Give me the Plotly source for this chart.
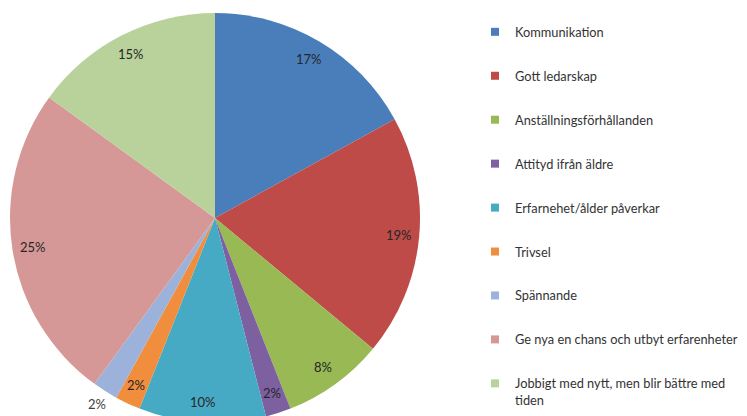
import math
import plotly.graph_objects as go

labels = [
    "Kommunikation",
    "Gott ledarskap",
    "Anställningsförhållanden",
    "Attityd ifrån äldre",
    "Erfarnehet/ålder påverkar",
    "Trivsel",
    "Spännande",
    "Ge nya en chans och utbyt erfarenheter",
    "Jobbigt med nytt, men blir bättre med<br>tiden",
]
values = [17, 19, 8, 2, 10, 2, 2, 25, 15]
colors = [
    "#4A7EBB", "#BE4B48", "#98B954", "#7D60A0", "#46AAC5",
    "#F08E3E", "#9DB2DB", "#D69896", "#B9D29C",
]
# label radius as a share of the pie radius (Spännande sits outside)
label_r = [0.9, 0.9, 0.9, 0.9, 0.9, 0.9, 1.075, 0.9, 0.9]

W, H = 747, 416
PAGE_OFF = 8  # default body margin of the html page
font_family = "Lato, 'Open Sans', sans-serif"

# pie placement (figure pixels)
radius = 205
cx = 215 - PAGE_OFF
cy = 218 - PAGE_OFF
top_m = cy - radius
bot_m = H - (cy + radius)
plot_h = H - top_m - bot_m

fig = go.Figure()

fig.add_trace(go.Pie(
    labels=labels,
    values=values,
    sort=False,
    direction="clockwise",
    rotation=0,
    marker=dict(colors=colors, line=dict(width=0)),
    textinfo="none",
    showlegend=False,
    domain=dict(x=[(cx - radius) / W, (cx + radius) / W], y=[0, 1]),
    hoverinfo="label+percent",
))

# percentage labels, placed like the original at the outer part of each slice
total = sum(values)
cum = 0
for v, fr in zip(values, label_r):
    mid = (cum + v / 2) / total * 2 * math.pi
    cum += v
    px = cx + fr * radius * math.sin(mid)
    py = cy - fr * radius * math.cos(mid)
    fig.add_annotation(
        x=px / W, y=(H - bot_m - py) / plot_h, xref="paper", yref="paper",
        xanchor="center", yanchor="middle",
        text=f"{round(v / total * 100)}%",
        showarrow=False,
        font=dict(family=font_family, size=13,
                  color="#404040" if fr > 1 else "#262626"),
    )

# legend entries as dummy markers so spacing can follow the original
for i, (lab, col) in enumerate(zip(labels, colors)):
    fig.add_trace(go.Scatter(
        x=[None], y=[None],
        mode="markers",
        name=lab,
        legendgroup=str(i),
        marker=dict(symbol="square", size=8, color=col),
    ))

legend_top = 9
fig.update_layout(
    width=W,
    height=H,
    margin=dict(l=0, r=0, t=top_m, b=bot_m),
    paper_bgcolor="white",
    plot_bgcolor="white",
    font=dict(family=font_family, size=13, color="#404040"),
    xaxis=dict(visible=False),
    yaxis=dict(visible=False),
    legend=dict(
        x=467 / W, xanchor="left",
        y=1 - (legend_top - top_m) / plot_h, yanchor="top",
        tracegroupgap=24.3,
        valign="top",
        font=dict(size=12.8, color="#333333"),
        bgcolor="rgba(0,0,0,0)",
    ),
)

fig.write_html("out.html")
